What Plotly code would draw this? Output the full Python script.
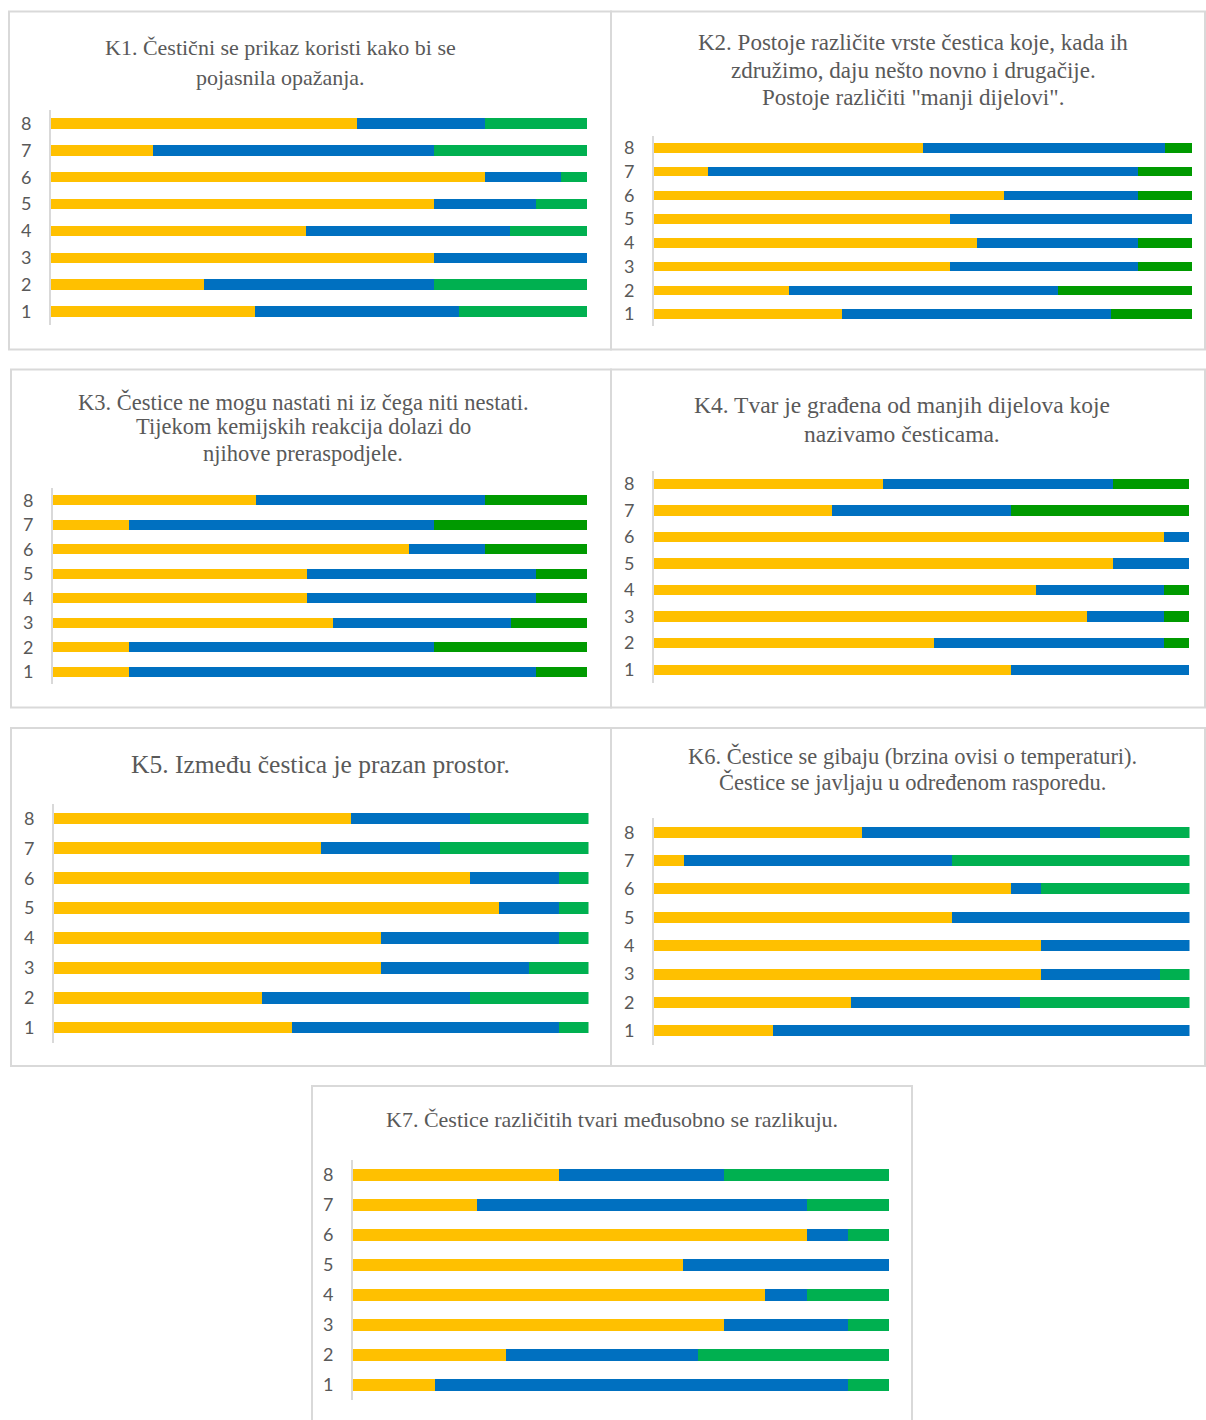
import plotly.graph_objects as go

W, H = 1206, 1420

categories = [1, 2, 3, 4, 5, 6, 7, 8]
series_names = ["Serija 1", "Serija 2", "Serija 3"]

# counts per row (rows 1..8)
k1_yellow = [8, 6, 15, 10, 15, 17, 4, 12]
k1_blue = [8, 9, 6, 8, 4, 3, 11, 5]
k1_green = [5, 6, 0, 3, 2, 1, 6, 4]

k2_yellow = [7, 5, 11, 12, 11, 13, 2, 10]
k2_blue = [10, 10, 7, 6, 9, 5, 16, 9]
k2_green = [3, 5, 2, 2, 0, 2, 2, 1]

k3_yellow = [3, 3, 11, 10, 10, 14, 3, 8]
k3_blue = [16, 12, 7, 9, 9, 3, 12, 9]
k3_green = [2, 6, 3, 2, 2, 4, 6, 4]

k4_yellow = [14, 11, 17, 15, 18, 20, 7, 9]
k4_blue = [7, 9, 3, 5, 3, 1, 7, 9]
k4_green = [0, 1, 1, 1, 0, 0, 7, 3]

k5_yellow = [8, 7, 11, 11, 15, 14, 9, 10]
k5_blue = [9, 7, 5, 6, 2, 3, 4, 4]
k5_green = [1, 4, 2, 1, 1, 1, 5, 4]

k6_yellow = [4, 7, 13, 13, 10, 12, 1, 7]
k6_blue = [14, 6, 4, 5, 8, 1, 9, 8]
k6_green = [0, 6, 1, 0, 0, 5, 8, 3]

k7_yellow = [2, 4, 9, 10, 8, 11, 3, 5]
k7_blue = [10, 5, 3, 1, 5, 1, 8, 4]
k7_green = [1, 5, 1, 2, 0, 1, 2, 4]

titles = {
    "K1": ["K1. Čestični se prikaz koristi kako bi se", "pojasnila opažanja."],
    "K2": ["K2. Postoje različite vrste čestica koje, kada ih",
           "združimo, daju nešto novno i drugačije.",
           "Postoje različiti \"manji dijelovi\"."],
    "K3": ["K3. Čestice ne mogu nastati ni iz čega niti nestati.",
           "Tijekom kemijskih reakcija dolazi do",
           "njihove preraspodjele."],
    "K4": ["K4. Tvar je građena od manjih dijelova koje", "nazivamo česticama."],
    "K5": ["K5. Između čestica je prazan prostor."],
    "K6": ["K6. Čestice se gibaju (brzina ovisi o temperaturi).",
           "Čestice se javljaju u određenom rasporedu."],
    "K7": ["K7. Čestice različitih tvari međusobno se razlikuju."],
}

YELLOW = "#FFC000"
BLUE = "#0070C0"
GREEN = "#00B050"
GREEN_DARK = "#009A00"

panels = [
    # key, data, green colour, plot box (px: x0,x1,y0,y1), frame (px), title center x, line ys, font size
    ("K1", (k1_yellow, k1_blue, k1_green), GREEN, (51, 587, 110, 325), (9, 611, 11.5, 349.5), 280, [48, 77], 22),
    ("K2", (k2_yellow, k2_blue, k2_green), GREEN_DARK, (654, 1192, 136, 326), (611, 1205, 11.5, 349.5), 913, [42.5, 70, 97.5], 23),
    ("K3", (k3_yellow, k3_blue, k3_green), GREEN_DARK, (53, 587, 488, 684), (11, 611, 369.5, 707.5), 303, [401.5, 427, 453], 22.5),
    ("K4", (k4_yellow, k4_blue, k4_green), GREEN_DARK, (654, 1189, 470.5, 683), (611, 1205, 369.5, 707.5), 902, [405, 434], 23.5),
    ("K5", (k5_yellow, k5_blue, k5_green), GREEN, (54, 588.5, 803.5, 1042.5), (11, 611, 728, 1066), 320, [764.5], 25.5),
    ("K6", (k6_yellow, k6_blue, k6_green), GREEN, (654, 1189.5, 818, 1045), (611, 1205, 728, 1066), 912, [756, 782], 22.5),
    ("K7", (k7_yellow, k7_blue, k7_green), GREEN, (353, 889, 1160, 1400), (312, 912, 1086, 1430), 612, [1119], 22),
]

def px_x(v):
    return v / W

def px_y(v):
    return 1 - v / H

fig = go.Figure()
shapes = []
annotations = []

for i, (key, data, gcol, box, frame, tcx, tys, tsize) in enumerate(panels):
    n = "" if i == 0 else str(i + 1)
    xa, ya = "x" + n, "y" + n
    cols = [YELLOW, BLUE, gcol]
    for vals, col, name in zip(data, cols, series_names):
        fig.add_trace(go.Bar(
            x=vals, y=categories, orientation="h", name=name,
            marker=dict(color=col, line=dict(width=0)),
            xaxis=xa, yaxis=ya, showlegend=False,
            hovertemplate=key + " %{y}: %{x:.1f}%<extra></extra>",
        ))
    x0, x1, y0, y1 = box
    fig.layout["xaxis" + n] = dict(
        domain=[px_x(x0), px_x(x1)], range=[0, 100], visible=False,
        anchor=ya, fixedrange=True,
    )
    fig.layout["yaxis" + n] = dict(
        domain=[px_y(y1), px_y(y0)], range=[0.5, 8.5], anchor=xa,
        tickvals=categories, ticktext=[str(c) for c in categories],
        showgrid=False, zeroline=False, showline=True,
        linecolor="#D9D9D9", linewidth=2, ticks="",
        ticklabelstandoff=14,
        tickfont=dict(family="Lato, Carlito, Liberation Sans, sans-serif", size=18, color="#595959"),
        fixedrange=True,
    )
    fx0, fx1, fy0, fy1 = frame
    shapes.append(dict(
        type="rect", xref="paper", yref="paper",
        x0=px_x(fx0), x1=px_x(fx1), y0=px_y(fy1), y1=px_y(fy0),
        line=dict(color="#D9D9D9", width=2), fillcolor="rgba(0,0,0,0)", layer="below",
    ))
    for line_text, ty in zip(titles[key], tys):
        annotations.append(dict(
            text=line_text, xref="paper", yref="paper",
            x=px_x(tcx), y=px_y(ty), xanchor="center", yanchor="middle",
            showarrow=False,
            font=dict(family="Liberation Serif, Times New Roman, serif", size=tsize, color="#595959"),
        ))

fig.update_layout(
    width=W, height=H,
    margin=dict(l=0, r=0, t=0, b=0),
    paper_bgcolor="white", plot_bgcolor="white",
    barmode="stack", barnorm="percent", bargap=0.61,
    shapes=shapes, annotations=annotations,
    showlegend=False,
)

fig.write_html("out.html", config={"displayModeBar": False},
               post_script="document.body.style.margin='0';")
